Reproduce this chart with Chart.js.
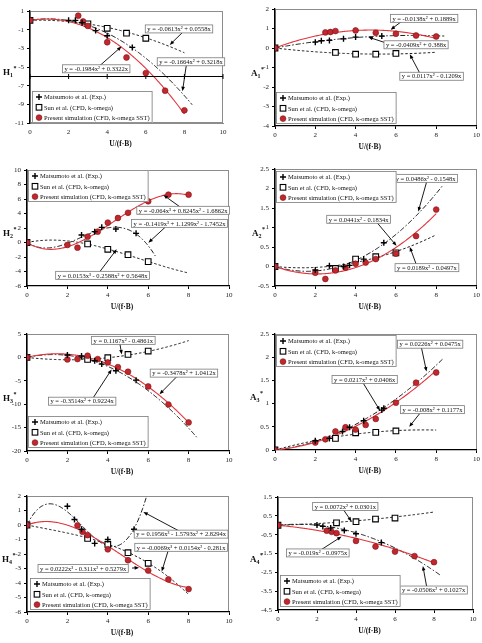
<!DOCTYPE html>
<html>
<head>
<meta charset="utf-8">
<script src="https://cdn.jsdelivr.net/npm/chart.js@4.4.0/dist/chart.umd.min.js"></script>
<style>
  body { margin: 0; background: #fff; width: 482px; height: 643px; position: relative; overflow: hidden; }
  canvas { position: absolute; }
</style>
</head>
<body>
<canvas id="c1"></canvas><canvas id="c2"></canvas>
<canvas id="c3"></canvas><canvas id="c4"></canvas>
<canvas id="c5"></canvas><canvas id="c6"></canvas>
<canvas id="c7"></canvas><canvas id="c8"></canvas>
<script>
const SERIF = '"Liberation Serif", "Times New Roman", serif';
const RED = '#c1272d';

// shared values
const xTicks = [0, 2, 4, 6, 8, 10];
const sunX = [0, 3, 4, 5, 6];
const presX9 = [0, 2.5, 2.75, 3, 4, 5, 6, 7, 8];
const presX11 = [0, 2, 2.5, 3, 3.5, 4, 4.5, 5, 6, 7, 8];
const seriesNames = ['Matsumoto et al. (Exp.)', 'Sun et al. (CFD, k-omega)', 'Present simulation (CFD, k-omega SST)'];

// H1*
const h1Ticks = [-11, -9, -7, -5, -3, -1, 1];
const h1MatsX = [2, 2.35, 2.7, 3.4, 4, 5.3];
const h1MatsY = [0, 0, -0.25, -1.1, -1.65, -2.9];
const h1SunY = [0, -0.38, -0.85, -1.38, -1.92];
const h1PresY = [0, 0.5, -0.12, -0.6, -2.35, -3.98, -5.65, -7.54, -9.64];
const h1Fits = [[-0.1664, 0.3218, 0], [-0.0613, 0.0558, 0], [-0.1984, 0.3322, 0]];
const h1FitEnd = [8.4, 8, 8];

// A1*
const a1Ticks = [-4, -3, -2, -1, 0, 1, 2];
const a1MatsX = [2, 2.3, 2.7, 3.4, 4, 5.3];
const a1MatsY = [0.3, 0.37, 0.39, 0.47, 0.56, 0.61];
const a1SunY = [0, -0.23, -0.32, -0.32, -0.28];
const a1PresY = [0, 0.8, 0.82, 0.87, 0.9, 0.78, 0.73, 0.64, 0.59];
const a1Fits = [[-0.0138, 0.1889, 0], [0.0117, -0.1209, 0], [-0.0409, 0.388, 0]];
const a1FitEnd = [8.4, 8, 8];

// H2*
const h2Ticks = [-6, -4, -2, 0, 2, 4, 6, 8, 10];
const h2MatsX = [2.7, 3.35, 3.7, 4.4, 5.4];
const h2MatsY = [1.03, 1.5, 2.09, 1.86, 1.26];
const h2SunY = [0, -0.2, -0.94, -1.68, -2.64];
const h2PresY = [0, -0.34, -0.71, 0.8, 1.5, 2.74, 3.38, 4.1, 5.68, 6.6, 6.6];
const h2Fits = [[-0.1419, 1.1299, -1.7452, 0], [0.0153, -0.2588, 0.5648, 0], [-0.064, 0.8245, -1.6862, 0]];
const h2FitEnd = [6.35, 8, 8];

// A2*
const a2Ticks = [-0.5, 0, 0.5, 1, 1.5, 2, 2.5];
const a2MatsX = [2, 2.7, 3.4, 3.7, 4.4, 5.4];
const a2MatsY = [-0.09, 0.02, 0, 0.03, 0.19, 0.61];
const a2SunY = [0, -0.05, 0.19, 0.25, 0.35];
const a2PresY = [0, -0.16, -0.32, -0.1, -0.03, 0.07, 0.1, 0.19, 0.33, 0.78, 1.46];
const a2Fits = [[0.0486, -0.1548, 0], [0.0189, -0.0497, 0], [0.0441, -0.1834, 0]];
const a2FitEnd = [8.3, 8, 8];

// H3*
const h3Ticks = [-20, -15, -10, -5, 0, 5];
const h3MatsX = [2, 2.7, 3.35, 3.7, 4.4, 5.4];
const h3MatsY = [0.5, 0.29, -0.71, -1.43, -2.86, -4.86];
const h3SunY = [0, -0.43, -0.07, 0.64, 1.36];
const h3PresY = [0, -0.43, -0.36, 0.36, -0.36, -1.07, -2.07, -3.07, -6.21, -10.07, -13.9];
const h3Fits = [[-0.3514, 0.9224, 0], [0.1167, -0.4861, 0], [-0.3478, 1.0412, 0]];
const h3FitEnd = [8.4, 8, 8];

// A3*
const a3Ticks = [0, 0.5, 1, 1.5, 2, 2.5];
const a3MatsX = [2, 2.7, 3.35, 3.7, 4.4, 5.3, 5.4];
const a3MatsY = [0.2, 0.25, 0.4, 0.49, 0.63, 0.86, 0.9];
const a3SunY = [0, 0.25, 0.37, 0.38, 0.41];
const a3PresY = [0, 0.16, 0.23, 0.4, 0.49, 0.44, 0.54, 0.67, 1.02, 1.45, 1.67];
const a3Fits = [[0.0226, 0.0475, 0], [-0.008, 0.1177, 0], [0.0217, 0.0406, 0]];
const a3FitEnd = [8.35, 8, 8];

// H4*
const h4Ticks = [-6, -5, -4, -3, -2, -1, 0, 1, 2];
const h4MatsX = [2, 2.35, 2.7, 3.35, 4, 5.3];
const h4MatsY = [1.29, 0.38, -0.29, -1.27, -1.0, -0.29];
const h4SunY = [0, -0.93, -1.34, -1.91, -2.64];
const h4PresY = [0, -0.03, -0.47, -0.7, -1.68, -2.43, -3.14, -3.75, -4.42];
const h4Fits = [[0.1956, -1.5793, 2.8294, 0], [-0.0069, 0.0154, -0.281, 0], [0.0222, -0.311, 0.5279, 0]];
const h4FitEnd = [6.5, 8, 8];

// A4*
const a4Ticks = [-4.5, -3.5, -2.5, -1.5, -0.5, 0.5, 1.5];
const a4MatsX = [2, 2.3, 2.7, 3.4, 4, 5.3];
const a4MatsY = [0.01, -0.06, -0.15, -0.28, -0.45, -0.92];
const a4SunY = [0, 0.13, 0.19, 0.33, 0.38];
const a4PresY = [0, -0.29, -0.35, -0.42, -0.83, -1.13, -1.4, -1.64, -1.96];
const a4Fits = [[-0.0506, 0.1027, 0], [0.0072, 0.0301, 0], [-0.019, -0.0975, 0]];
const a4FitEnd = [8.35, 8, 8];

// layout: canvas box and plot box in page pixels, notes in data units
const panels = [
  { id: 'c1', canvas: [0, 0, 240, 160], plot: [30, 11, 223, 123], y: [-11, 1], yTicks: h1Ticks, name: 'H', sub: '1',
    matsX: h1MatsX, matsY: h1MatsY, sunY: h1SunY, presX: presX9, presY: h1PresY, fits: h1Fits, fitEnd: h1FitEnd,
    xCross: -6, legend: ['bl', 2, 0], labelX: 3,
    notes: [
      { eq: 'y = -0.0613x² + 0.0558x', box: [7.72, -0.92], from: [7.9, -1.3], to: [7.24, -2.63] },
      { eq: 'y = -0.1664x² + 0.3218x', box: [8.34, -4.44], from: [8.1, -4.8], to: [7.9, -7.6] },
      { eq: 'y = -0.1984x² + 0.3322x', box: [3.43, -5.19], from: [3.62, -4.85], to: [4.74, -2.81] } ] },
  { id: 'c2', canvas: [240, 0, 242, 160], plot: [275, 9, 477, 126], y: [-4, 2], yTicks: a1Ticks, name: 'A', sub: '1',
    matsX: a1MatsX, matsY: a1MatsY, sunY: a1SunY, presX: presX9, presY: a1PresY, fits: a1Fits, fitEnd: a1FitEnd,
    legend: ['bl', 1, 2], labelX: 11,
    notes: [
      { eq: 'y = -0.0138x² + 0.1889x', box: [7.4, 1.52], from: [6.28, 1.36], to: [5.74, 0.94] },
      { eq: 'y = -0.0409x² + 0.388x', box: [7.0, 0.165], from: [5.45, 0.28], to: [4.63, 0.56] },
      { eq: 'y = 0.0117x² - 0.1209x', box: [7.77, -1.45], from: [7.19, -1.3], to: [6.69, -0.32] } ] },
  { id: 'c3', canvas: [0, 160, 240, 160], plot: [27, 170, 229, 286], y: [-6, 10], yTicks: h2Ticks, name: 'H', sub: '2',
    matsX: h2MatsX, matsY: h2MatsY, sunY: h2SunY, presX: presX11, presY: h2PresY, fits: h2Fits, fitEnd: h2FitEnd,
    legend: ['tl', 1, 0], labelX: 3,
    notes: [
      { eq: 'y = -0.064x³ + 0.8245x² - 1.6862x', box: [7.73, 4.44], from: [7.58, 4.9], to: [6.75, 6.55] },
      { eq: 'y = -0.1419x³ + 1.1299x² - 1.7452x', box: [7.55, 2.64], from: [6.84, 2.1], to: [6.01, -0.02] },
      { eq: 'y = 0.0153x³ - 0.2588x² + 0.5648x', box: [3.74, -4.53], from: [3.61, -4.0], to: [4.44, -0.94] } ] },
  { id: 'c4', canvas: [240, 160, 242, 160], plot: [275, 169, 477, 286], y: [-0.5, 2.5], yTicks: a2Ticks, name: 'A', sub: '2',
    matsX: a2MatsX, matsY: a2MatsY, sunY: a2SunY, presX: presX11, presY: a2PresY, fits: a2Fits, fitEnd: a2FitEnd,
    legend: ['tl', 1, 2], labelX: 12,
    notes: [
      { eq: 'y = 0.0486x² - 0.1548x', box: [7.47, 2.26], from: [7.52, 2.16], to: [7.11, 1.41] },
      { eq: 'y = 0.0441x² - 0.1834x', box: [4.15, 1.21], from: [5.04, 1.14], to: [6.03, 0.53] },
      { eq: 'y = 0.0189x² - 0.0497x', box: [7.54, -0.03], from: [7.02, 0.04], to: [6.69, 0.5] } ] },
  { id: 'c5', canvas: [0, 320, 240, 160], plot: [27, 334, 229, 451], y: [-20, 5], yTicks: h3Ticks, name: 'H', sub: '3',
    matsX: h3MatsX, matsY: h3MatsY, sunY: h3SunY, presX: presX11, presY: h3PresY, fits: h3Fits, fitEnd: h3FitEnd,
    legend: ['bl', 1, 3], labelX: 3,
    notes: [
      { eq: 'y = 0.1167x² - 0.4861x', box: [4.77, 3.64], from: [4.6, 2.9], to: [4.69, 0.64] },
      { eq: 'y = -0.3478x² + 1.0412x', box: [7.77, -3.36], from: [7.42, -4.1], to: [6.56, -7.86] },
      { eq: 'y = -0.3514x² + 0.9224x', box: [2.73, -9.36], from: [3.28, -8.6], to: [4.19, -2.57] } ] },
  { id: 'c6', canvas: [240, 320, 242, 160], plot: [275, 334, 477, 450], y: [0, 2.5], yTicks: a3Ticks, name: 'A', sub: '3',
    matsX: a3MatsX, matsY: a3MatsY, sunY: a3SunY, presX: presX11, presY: a3PresY, fits: a3Fits, fitEnd: a3FitEnd,
    legend: ['tl', 1, 1], labelX: 10,
    notes: [
      { eq: 'y = 0.0226x² + 0.0475x', box: [7.7, 2.28], from: [7.27, 2.2], to: [7.52, 1.69] },
      { eq: 'y = 0.0217x² + 0.0406x', box: [4.45, 1.52], from: [4.38, 1.44], to: [5.21, 0.85] },
      { eq: 'y = -0.008x² + 0.1177x', box: [7.82, 0.87], from: [7.19, 0.79], to: [6.66, 0.5] } ] },
  { id: 'c7', canvas: [0, 480, 240, 163], plot: [27, 496, 229, 612], y: [-6, 2], yTicks: h4Ticks, name: 'H', sub: '4',
    matsX: h4MatsX, matsY: h4MatsY, sunY: h4SunY, presX: presX9, presY: h4PresY, fits: h4Fits, fitEnd: h4FitEnd,
    legend: ['bl', 3, 2], labelX: 2,
    notes: [
      { eq: 'y = 0.1956x³ - 1.5793x² + 2.8294x', box: [7.63, -0.63], from: [7.58, -0.45], to: [5.76, 0.9] },
      { eq: 'y = -0.0069x³ + 0.0154x² - 0.281x', box: [7.63, -1.54], from: [7.0, -1.72], to: [6.67, -3.21] },
      { eq: 'y = 0.0222x³ - 0.311x² + 0.5279x', box: [2.78, -3.0], from: [5.2, -2.97], to: [5.55, -2.94] } ] },
  { id: 'c8', canvas: [240, 480, 242, 163], plot: [278, 497, 473, 610], y: [-4.5, 1.5], yTicks: a4Ticks, name: 'A', sub: '4',
    matsX: a4MatsX, matsY: a4MatsY, sunY: a4SunY, presX: presX9, presY: a4PresY, fits: a4Fits, fitEnd: a4FitEnd,
    legend: ['bl', 2, 3], labelX: 10,
    notes: [
      { eq: 'y = 0.0072x² + 0.0301x', box: [3.45, 1.0], from: [3.34, 0.85], to: [3.77, 0.2] },
      { eq: 'y = -0.019x² - 0.0975x', box: [2.04, -1.47], from: [2.14, -1.35], to: [3.26, -0.6] },
      { eq: 'y = -0.0506x² + 0.1027x', box: [7.98, -3.44], from: [7.63, -3.3], to: [7.43, -2.16] } ] }
];

const specs = {};
const poly = (c, x) => c.reduce((acc, k) => acc * x + k, 0);
const fitStyles = [
  { color: '#000', width: 0.9, dash: [5, 2, 1.5, 2] },
  { color: '#000', width: 0.9, dash: [2.5, 2] },
  { color: '#e0353c', width: 1.1, dash: [] }
];

function drawMarker(ctx, kind, x, y) {
  ctx.save();
  ctx.setLineDash([]);
  if (kind === 0) {
    ctx.strokeStyle = '#000'; ctx.lineWidth = 1.4;
    ctx.beginPath();
    ctx.moveTo(x - 3, y); ctx.lineTo(x + 3, y);
    ctx.moveTo(x, y - 3); ctx.lineTo(x, y + 3);
    ctx.stroke();
  } else if (kind === 1) {
    ctx.fillStyle = '#fff'; ctx.strokeStyle = '#000'; ctx.lineWidth = 1.1;
    ctx.fillRect(x - 2.8, y - 2.8, 5.6, 5.6); ctx.strokeRect(x - 2.8, y - 2.8, 5.6, 5.6);
  } else {
    ctx.fillStyle = RED; ctx.strokeStyle = '#7a1418'; ctx.lineWidth = 0.6;
    ctx.beginPath(); ctx.arc(x, y, 2.9, 0, Math.PI * 2); ctx.fill(); ctx.stroke();
  }
  ctx.restore();
}

Chart.register({
  id: 'panelDecor',
  beforeDraw(chart) {
    const { ctx, chartArea: a } = chart;
    ctx.save();
    ctx.fillStyle = '#fff';
    ctx.fillRect(0, 0, chart.width, chart.height);
    ctx.strokeStyle = '#8c8c8c'; ctx.lineWidth = 1;
    ctx.strokeRect(Math.round(a.left) + 0.5, Math.round(a.top) + 0.5, Math.round(a.width) - 1, Math.round(a.height) - 1);
    ctx.restore();
  },
  beforeDatasetsDraw(chart) {
    const p = specs[chart.canvas.id];
    const { ctx, chartArea: a } = chart;
    const xs = chart.scales.x, ys = chart.scales.y;
    ctx.save();
    ctx.beginPath(); ctx.rect(a.left, a.top, a.width, a.height); ctx.clip();
    p.fits.forEach((c, k) => {
      const st = fitStyles[k];
      ctx.beginPath();
      const n = 160;
      for (let i = 0; i <= n; i++) {
        const xv = p.fitEnd[k] * i / n;
        const px = xs.getPixelForValue(xv), py = ys.getPixelForValue(poly(c, xv));
        if (i) ctx.lineTo(px, py); else ctx.moveTo(px, py);
      }
      ctx.setLineDash(st.dash); ctx.strokeStyle = st.color; ctx.lineWidth = st.width;
      ctx.stroke();
    });
    ctx.restore();
    if (p.xCross != null) {
      const py = Math.round(ys.getPixelForValue(p.xCross)) + 0.5;
      ctx.save();
      ctx.strokeStyle = '#000'; ctx.lineWidth = 1.2;
      ctx.beginPath(); ctx.moveTo(a.left, py); ctx.lineTo(a.right, py); ctx.stroke();
      ctx.lineWidth = 1;
      xTicks.forEach(v => {
        const px = xs.getPixelForValue(v);
        ctx.beginPath(); ctx.moveTo(px, py - 2.5); ctx.lineTo(px, py + 2.5); ctx.stroke();
      });
      ctx.restore();
    }
  },
  afterDatasetsDraw(chart) {
    const p = specs[chart.canvas.id];
    const { ctx, chartArea: a } = chart;
    const xs = chart.scales.x, ys = chart.scales.y;
    ctx.save();
    // equation boxes with arrows
    ctx.font = '6.5px ' + SERIF;
    p.notes.forEach(n => {
      const fx = xs.getPixelForValue(n.from[0]), fy = ys.getPixelForValue(n.from[1]);
      const tx = xs.getPixelForValue(n.to[0]), ty = ys.getPixelForValue(n.to[1]);
      const ang = Math.atan2(ty - fy, tx - fx);
      ctx.strokeStyle = '#000'; ctx.fillStyle = '#000'; ctx.lineWidth = 0.9;
      ctx.beginPath(); ctx.moveTo(fx, fy);
      ctx.lineTo(tx - 3 * Math.cos(ang), ty - 3 * Math.sin(ang)); ctx.stroke();
      ctx.beginPath();
      ctx.moveTo(tx, ty);
      ctx.lineTo(tx - 4.5 * Math.cos(ang) + 1.8 * Math.sin(ang), ty - 4.5 * Math.sin(ang) - 1.8 * Math.cos(ang));
      ctx.lineTo(tx - 4.5 * Math.cos(ang) - 1.8 * Math.sin(ang), ty - 4.5 * Math.sin(ang) + 1.8 * Math.cos(ang));
      ctx.closePath(); ctx.fill();
    });
    p.notes.forEach(n => {
      const bx = xs.getPixelForValue(n.box[0]), by = ys.getPixelForValue(n.box[1]);
      const w = ctx.measureText(n.eq).width + 4, h = 8;
      ctx.fillStyle = '#fff';
      ctx.fillRect(bx - w / 2, by - h / 2, w, h);
      ctx.strokeStyle = '#7a7a7a'; ctx.lineWidth = 0.8;
      ctx.strokeRect(bx - w / 2, by - h / 2, w, h);
      ctx.fillStyle = '#111'; ctx.textAlign = 'center'; ctx.textBaseline = 'middle';
      ctx.fillText(n.eq, bx, by + 0.5);
    });
    // legend box
    ctx.font = '6.5px ' + SERIF;
    const tw = Math.max(...seriesNames.map(s => ctx.measureText(s).width));
    const lw = tw + 15, lh = 32;
    const [corner, dx, dy] = p.legend;
    const lx = a.left + dx;
    const ly = corner === 'bl' ? a.bottom - dy - lh : a.top + dy;
    ctx.fillStyle = '#fff'; ctx.fillRect(lx, ly, lw, lh);
    ctx.strokeStyle = '#7a7a7a'; ctx.lineWidth = 0.8; ctx.strokeRect(lx + 0.5, ly + 0.5, lw - 1, lh - 1);
    seriesNames.forEach((s, i) => {
      const ry = ly + 6 + i * 10.3;
      drawMarker(ctx, i, lx + 7, ry);
      ctx.fillStyle = '#111'; ctx.textAlign = 'left'; ctx.textBaseline = 'middle';
      ctx.fillText(s, lx + 12, ry + 0.5);
    });
    ctx.restore();
  },
  afterDraw(chart) {
    const p = specs[chart.canvas.id];
    const { ctx, chartArea: a } = chart;
    ctx.save();
    ctx.fillStyle = '#111';
    ctx.textBaseline = 'middle'; ctx.textAlign = 'center';
    ctx.font = 'bold 7.5px ' + SERIF;
    ctx.fillText('U/(f·B)', (a.left + a.right) / 2 - 6, a.bottom + 21);
    // y label with subscript and star
    const cy = (a.top + a.bottom) / 2 + 5;
    ctx.textAlign = 'left'; ctx.textBaseline = 'alphabetic';
    ctx.font = 'bold 9px ' + SERIF;
    ctx.fillText(p.name, p.labelX, cy + 3);
    const wn = ctx.measureText(p.name).width;
    ctx.font = 'bold 6px ' + SERIF;
    ctx.fillText(p.sub, p.labelX + wn, cy + 5);
    ctx.fillText('*', p.labelX + wn + 3.5, cy - 2);
    ctx.restore();
  }
});

function buildChart(p) {
  specs[p.id] = p;
  const [cx, cy, cw, ch] = p.canvas;
  const [l, t, r, b] = p.plot;
  const cv = document.getElementById(p.id);
  cv.width = cw; cv.height = ch;
  cv.style.left = cx + 'px'; cv.style.top = cy + 'px';
  const pts = (xs, ys) => xs.map((v, i) => ({ x: v, y: ys[i] }));
  const tickFont = { family: SERIF, size: 7 };
  const cross = p.xCross != null;
  new Chart(cv, {
    type: 'scatter',
    data: {
      datasets: [
        { label: seriesNames[0], data: pts(p.matsX, p.matsY), pointStyle: 'cross', pointRadius: 3,
          pointBorderColor: '#000', pointBorderWidth: 1.4, order: 0 },
        { label: seriesNames[1], data: pts(sunX, p.sunY), pointStyle: 'rect', pointRadius: 4,
          pointBackgroundColor: '#fff', pointBorderColor: '#000', pointBorderWidth: 1.1, order: 2 },
        { label: seriesNames[2], data: pts(p.presX, p.presY), pointStyle: 'circle', pointRadius: 2.9,
          pointBackgroundColor: RED, pointBorderColor: '#7a1418', pointBorderWidth: 0.6, order: 1 }
      ]
    },
    options: {
      responsive: false,
      animation: false,
      events: [],
      layout: { padding: { left: 0, top: t - cy, right: cx + cw - r, bottom: 0 } },
      plugins: { legend: { display: false }, tooltip: { enabled: false } },
      scales: {
        x: {
          type: 'linear', min: 0, max: 10,
          afterBuildTicks: s => { s.ticks = xTicks.map(v => ({ value: v })); },
          afterFit: s => { s.height = cy + ch - b; },
          ticks: { font: tickFont, color: '#222', padding: 2, maxRotation: 0, autoSkip: false, callback: v => String(v) },
          grid: { drawOnChartArea: false, tickLength: 3, color: cross ? 'rgba(0,0,0,0)' : '#000' },
          border: { display: true, color: cross ? '#8c8c8c' : '#000', width: cross ? 1 : 1.3 }
        },
        y: {
          type: 'linear', min: p.y[0], max: p.y[1],
          afterBuildTicks: s => { s.ticks = p.yTicks.map(v => ({ value: v })); },
          afterFit: s => { s.width = l - cx; },
          ticks: { font: tickFont, color: '#222', padding: 3, autoSkip: false, callback: v => String(v) },
          grid: { drawOnChartArea: false, tickLength: 3, color: '#000' },
          border: { display: true, color: '#000', width: 1.3 }
        }
      }
    }
  });
}

panels.forEach(buildChart);
</script>
</body>
</html>
